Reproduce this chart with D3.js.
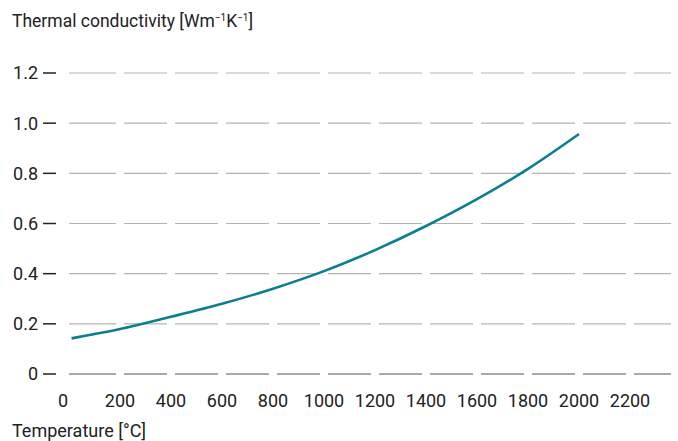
<!DOCTYPE html>
<html>
<head>
<meta charset="utf-8">
<script src="https://cdn.jsdelivr.net/npm/d3@7"></script>
<style>
  body { margin: 0; background: #fff; }
  text { font-family: Roboto, "Noto Sans", sans-serif; fill: #222; }
</style>
</head>
<body>
<svg width="678" height="441"></svg>
<script>
// temperature (°C) and conductivity
const temps = [10, 200, 400, 600, 800, 1000, 1200, 1400, 1600, 1800, 2000];
const conductivity = [0.142, 0.179, 0.228, 0.280, 0.340, 0.410, 0.494, 0.590, 0.697, 0.818, 0.957];
const xTicks = [0, 200, 400, 600, 800, 1000, 1200, 1400, 1600, 1800, 2000, 2200];
const yTicks = [0, 0.2, 0.4, 0.6, 0.8, 1.0, 1.2];

const svg = d3.select("svg"),
    gridRight = 671;

const x = d3.scaleLinear()
    .domain([0, 2200])
    .range([69, 630]);

const y = d3.scaleLinear()
    .domain([0, 1.2])
    .range([374, 73]);

const data = temps.map(function(t, i) { return {t: t, k: conductivity[i]}; });

// dashed gridlines: one segment per x interval, gaps sit on the x ticks
const step = x(200) - x(0), gap = 4;
const segs = [];
xTicks.forEach(function(t, i) {
  const x0 = i === 0 ? x(t) : x(t) + gap;
  const x1 = Math.min(x(t) + step - gap, gridRight);
  if (x1 > x0) segs.push([x0, x1]);
});

const grid = svg.append("g");
yTicks.forEach(function(v) {
  grid.selectAll(null)
    .data(segs)
    .enter().append("line")
      .attr("x1", function(d) { return d[0]; })
      .attr("x2", function(d) { return d[1]; })
      .attr("y1", y(v))
      .attr("y2", y(v))
      .attr("stroke", v === 0 ? "#555" : "#b3b3b3")
      .attr("stroke-width", 1.2);
});

// y axis: label plus a short dash
const yAxis = svg.append("g");
yAxis.selectAll("text")
  .data(yTicks)
  .enter().append("text")
    .attr("x", 38)
    .attr("y", function(d) { return y(d); })
    .attr("dy", "0.36em")
    .attr("text-anchor", "end")
    .style("font-size", "18px")
    .text(function(d) { return d === 0 ? "0" : d3.format(".1f")(d); });
yAxis.selectAll("line")
  .data(yTicks)
  .enter().append("line")
    .attr("x1", 43)
    .attr("x2", 56)
    .attr("y1", function(d) { return y(d); })
    .attr("y2", function(d) { return y(d); })
    .attr("stroke", "#222")
    .attr("stroke-width", 1.5);

// x tick labels (the "0" sits a little left of its tick in the original)
svg.append("g").selectAll("text")
  .data(xTicks)
  .enter().append("text")
    .attr("x", function(d) { return x(d); })
    .attr("dx", function(d) { return d === 0 ? -6 : 0; })
    .attr("y", 407)
    .attr("text-anchor", "middle")
    .style("font-size", "18px")
    .text(function(d) { return d; });

// curve
const line = d3.line()
    .x(function(d) { return x(d.t); })
    .y(function(d) { return y(d.k); })
    .curve(d3.curveMonotoneX);

svg.append("path")
    .datum(data)
    .attr("d", line)
    .attr("fill", "none")
    .attr("stroke", "#0b7f8f")
    .attr("stroke-width", 2.6);

// titles
const yTitle = svg.append("text")
    .attr("x", 12)
    .attr("y", 27)
    .style("font-size", "17.5px");
yTitle.append("tspan").text("Thermal conductivity [Wm");
yTitle.append("tspan").attr("dy", -6).style("font-size", "10px").text("\u2212");
yTitle.append("tspan").style("font-size", "10px").text("1");
yTitle.append("tspan").attr("dy", 6).text("K");
yTitle.append("tspan").attr("dy", -6).style("font-size", "10px").text("\u22121");
yTitle.append("tspan").attr("dy", 6).text("]");

svg.append("text")
    .attr("x", 12)
    .attr("y", 437)
    .style("font-size", "18px")
    .text("Temperature [°C]");
</script>
</body>
</html>
